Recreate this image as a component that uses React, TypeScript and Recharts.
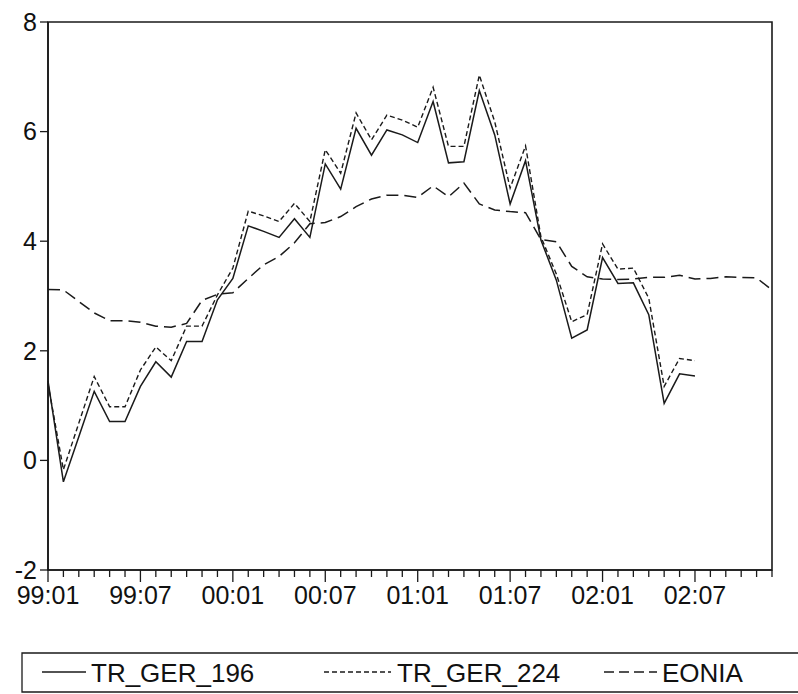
import * as React from "react";
import { LineChart, Line, XAxis, YAxis, ReferenceArea } from "recharts";

// monthly observations 99:01 .. 02:12
const months = [
  "99:01", "99:02", "99:03", "99:04", "99:05", "99:06", "99:07", "99:08", "99:09", "99:10", "99:11", "99:12",
  "00:01", "00:02", "00:03", "00:04", "00:05", "00:06", "00:07", "00:08", "00:09", "00:10", "00:11", "00:12",
  "01:01", "01:02", "01:03", "01:04", "01:05", "01:06", "01:07", "01:08", "01:09", "01:10", "01:11", "01:12",
  "02:01", "02:02", "02:03", "02:04", "02:05", "02:06", "02:07", "02:08", "02:09", "02:10", "02:11", "02:12",
];

const trGer196 = [
  1.45, -0.39, 0.43, 1.26, 0.71, 0.71, 1.35, 1.8, 1.52, 2.17, 2.17, 2.93,
  3.32, 4.28, 4.18, 4.07, 4.41, 4.07, 5.41, 4.95, 6.06, 5.57, 6.03, 5.94,
  5.8, 6.55, 5.43, 5.45, 6.75, 5.94, 4.68, 5.47, 4.02, 3.29, 2.23, 2.38,
  3.7, 3.23, 3.24, 2.66, 1.04, 1.58, 1.54, null, null, null, null, null,
];

const trGer224 = [
  1.4, -0.17, 0.68, 1.53, 0.98, 0.98, 1.65, 2.07, 1.82, 2.45, 2.45, 3.02,
  3.51, 4.55, 4.46, 4.36, 4.69, 4.36, 5.67, 5.24, 6.34, 5.85, 6.3, 6.21,
  6.08, 6.81, 5.73, 5.73, 7.03, 6.18, 4.97, 5.74, 4.08, 3.4, 2.53, 2.66,
  3.95, 3.49, 3.51, 2.96, 1.35, 1.86, 1.82, null, null, null, null, null,
];

const eonia = [
  3.12, 3.11, 2.9, 2.69, 2.55, 2.55, 2.52, 2.45, 2.43, 2.5, 2.92, 3.03,
  3.06, 3.32, 3.57, 3.72, 3.97, 4.32, 4.34, 4.45, 4.63, 4.77, 4.84, 4.84,
  4.8, 5.01, 4.81, 5.06, 4.68, 4.57, 4.54, 4.52, 4.03, 3.99, 3.54, 3.35,
  3.31, 3.3, 3.31, 3.34, 3.34, 3.38, 3.31, 3.32, 3.35, 3.34, 3.33, 3.11,
];

const majorLabels = ["99:01", "99:07", "00:01", "00:07", "01:01", "01:07", "02:01", "02:07"];
const yTicks = [-2, 0, 2, 4, 6, 8];

const data = months.map((m, i) => ({
  idx: i,
  month: m,
  tr196: trGer196[i],
  tr224: trGer224[i],
  eonia: eonia[i],
}));

const FONT = "'Liberation Sans', Arial, sans-serif";
const INK = "#1a1a1a";

const MonthTick = (props: any) => {
  const { x, y, payload } = props;
  const label = months[payload.value];
  const major = majorLabels.includes(label);
  return (
    <g>
      <line x1={x} x2={x} y1={y} y2={y + (major ? 12 : 7)} stroke={INK} strokeWidth={1.3} />
      {major && (
        <text x={x} y={y + 34} textAnchor="middle" fontSize={25} fontFamily={FONT} fill="#111">
          {label}
        </text>
      )}
    </g>
  );
};

const legendItems = [
  { name: "TR_GER_196", x1: 42, x2: 86, dash: undefined, tx: 91 },
  { name: "TR_GER_224", x1: 324, x2: 391, dash: "5 3", tx: 397 },
  { name: "EONIA", x1: 604, x2: 657, dash: "10 5", tx: 662 },
];

export default function App() {
  return (
    <div style={{ position: "absolute", left: 0, top: 0, width: 798, height: 694, background: "#fff" }}>
      <LineChart
        width={798}
        height={694}
        data={data}
        margin={{ top: 22, right: 26, bottom: 84, left: 0 }}
      >
        <XAxis
          dataKey="idx"
          type="number"
          domain={[0, 47]}
          ticks={months.map((_, i) => i)}
          interval={0}
          tick={<MonthTick />}
          tickLine={false}
          tickSize={0}
          tickMargin={0}
          height={40}
          axisLine={{ stroke: INK, strokeWidth: 1.6 }}
        />
        <YAxis
          type="number"
          domain={[-2, 8]}
          ticks={yTicks}
          interval={0}
          width={48}
          tickSize={8}
          tickMargin={3}
          tick={{ fontSize: 25, fontFamily: FONT, fill: "#111" }}
          tickLine={{ stroke: INK, strokeWidth: 1.3 }}
          axisLine={{ stroke: INK, strokeWidth: 1.6 }}
        />
        <ReferenceArea
          x1={0}
          x2={47}
          y1={-2}
          y2={8}
          fill="none"
          stroke={INK}
          strokeWidth={1.6}
          ifOverflow="visible"
        />
        <Line
          dataKey="eonia"
          type="linear"
          stroke={INK}
          strokeWidth={1.5}
          strokeDasharray="12 6"
          dot={false}
          isAnimationActive={false}
        />
        <Line
          dataKey="tr224"
          type="linear"
          stroke={INK}
          strokeWidth={1.4}
          strokeDasharray="5 3"
          dot={false}
          isAnimationActive={false}
        />
        <Line
          dataKey="tr196"
          type="linear"
          stroke={INK}
          strokeWidth={1.5}
          dot={false}
          isAnimationActive={false}
        />
      </LineChart>
      <svg
        width={798}
        height={694}
        style={{ position: "absolute", left: 0, top: 0, pointerEvents: "none" }}
      >
        <polyline points="800,653 22,653 22,692 800,692" fill="none" stroke={INK} strokeWidth={1.3} />
        {legendItems.map((it) => (
          <g key={it.name}>
            <line x1={it.x1} x2={it.x2} y1={672} y2={672} stroke={INK} strokeWidth={1.3} strokeDasharray={it.dash} />
            <text x={it.tx} y={682} fontSize={26} fontFamily={FONT} fill="#111">
              {it.name}
            </text>
          </g>
        ))}
      </svg>
    </div>
  );
}
